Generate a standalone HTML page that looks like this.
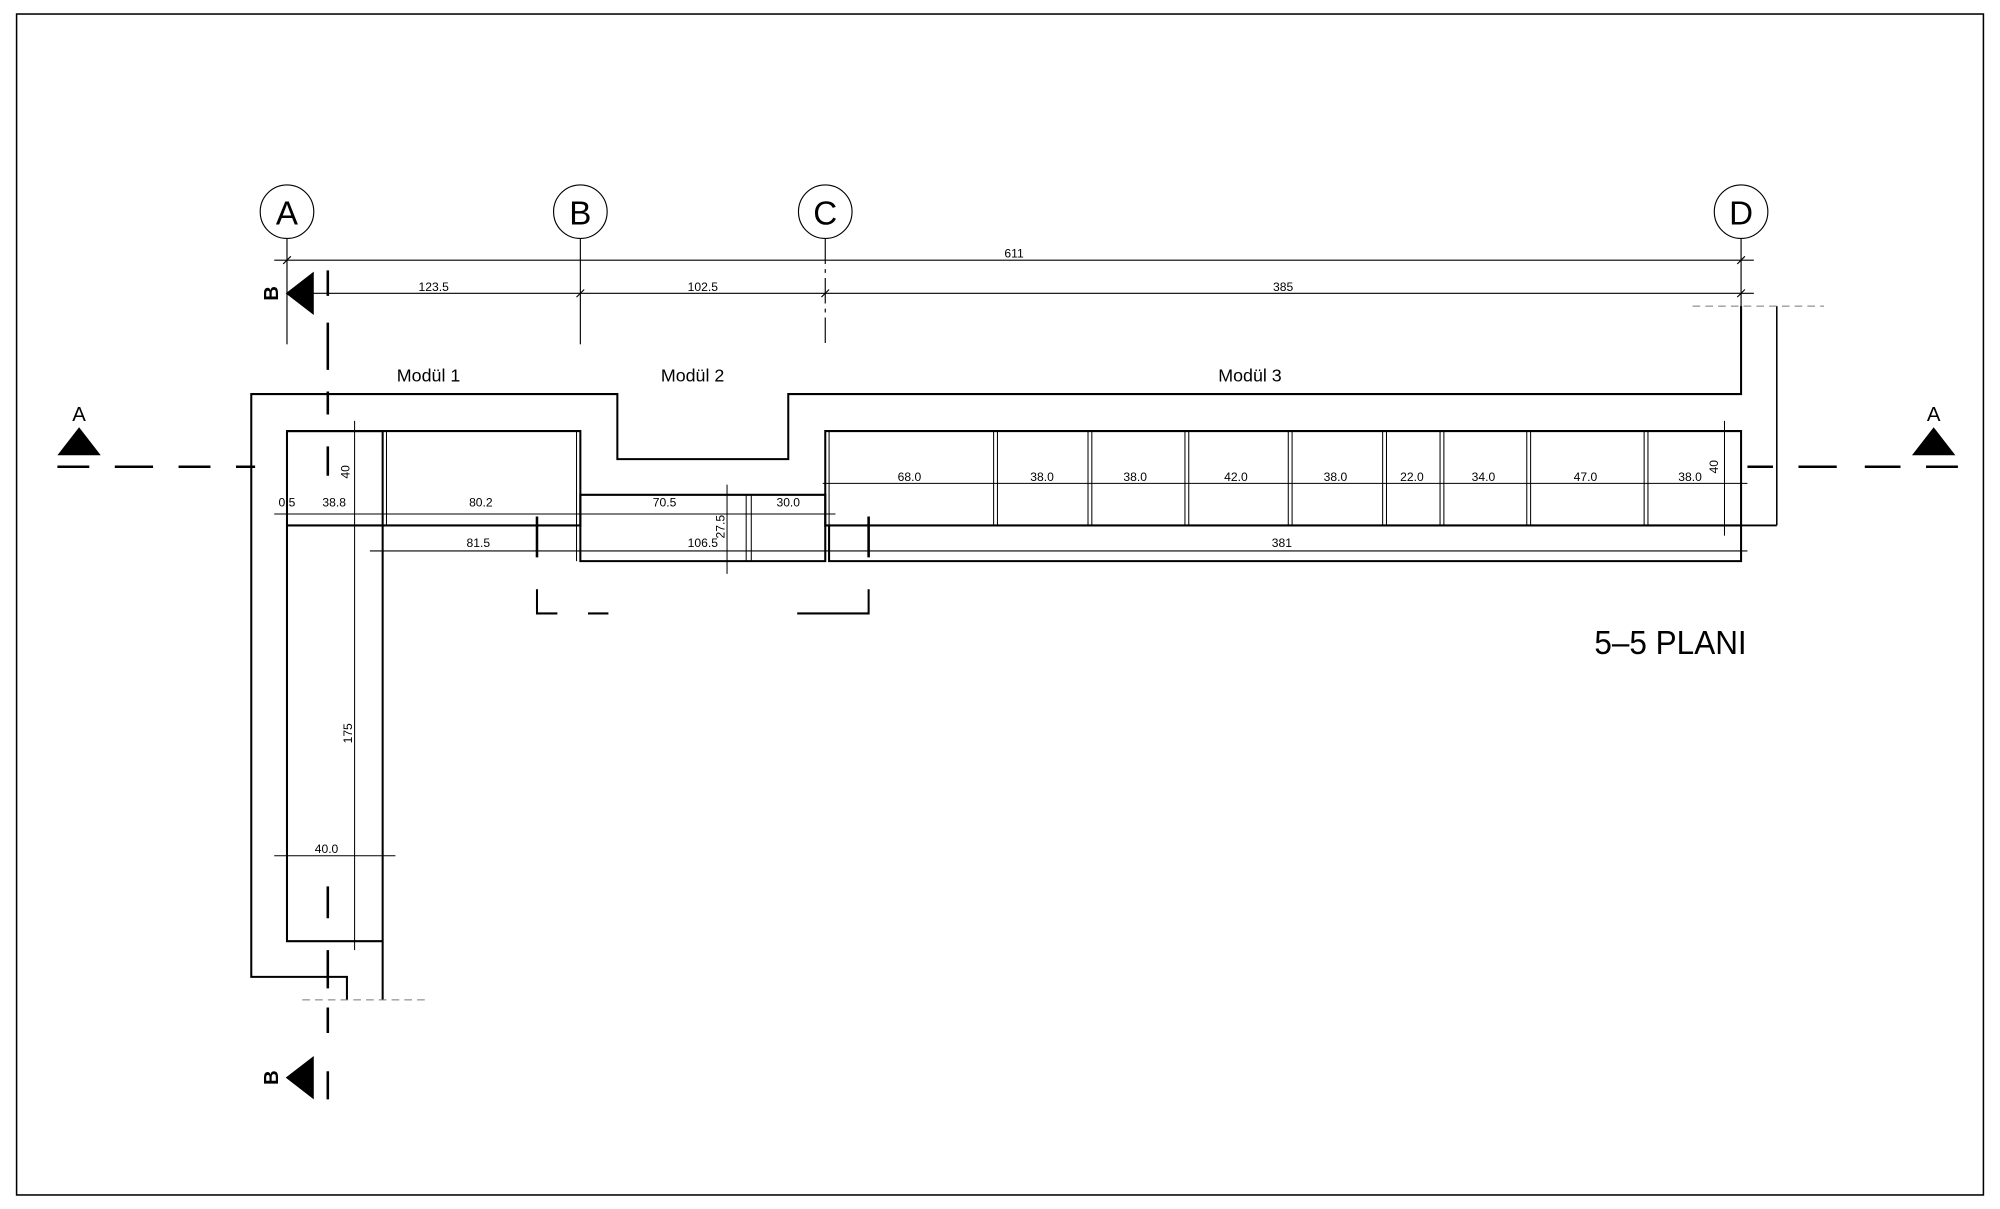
<!DOCTYPE html>
<html><head><meta charset="utf-8"><style>
html,body{margin:0;padding:0;background:#fff;width:2000px;height:1209px;overflow:hidden}
svg{display:block}
text{font-family:"Liberation Sans",sans-serif;fill:#000}
</style></head><body>
<svg width="2000" height="1209" viewBox="0 0 1568 948" preserveAspectRatio="none" xmlns="http://www.w3.org/2000/svg">
<rect x="13" y="11" width="1542" height="926" fill="none" stroke="#000" stroke-width="1.2"/>
<g fill="none" stroke="#000" stroke-width="0.9">
<circle cx="225" cy="166" r="21"/><circle cx="455" cy="166" r="21"/><circle cx="647" cy="166" r="21"/><circle cx="1365" cy="166" r="21"/>
<line x1="225" y1="187" x2="225" y2="270"/><line x1="455" y1="187" x2="455" y2="270"/>
<line x1="647" y1="187" x2="647" y2="270" stroke-dasharray="20 4 3 4"/><line x1="1365" y1="187" x2="1365" y2="306"/>
<line x1="215" y1="204" x2="1375" y2="204"/><line x1="240" y1="230" x2="1375" y2="230"/>
<path d="M222,207l6,-6M452,233l6,-6M644,233l6,-6M1362,207l6,-6M1362,233l6,-6"/>
</g>
<g fill="none" stroke="#000" stroke-width="1.6">
<path d="M1365,240V309H618V360H484V309H197V766H272V784"/>
<path d="M300,784V338H225V738H300"/>
<path d="M225,338H455V412H225"/>
<path d="M455,388H647V440H455Z"/>
<path d="M647,338H1365V412H647Z"/><path d="M650,412V440H1365V412"/>
</g>
<g stroke="#000" stroke-width="0.8" fill="none">
<line x1="303" y1="338" x2="303" y2="412"/><line x1="452" y1="338" x2="452" y2="440"/>
<line x1="585" y1="388" x2="585" y2="440"/><line x1="589" y1="388" x2="589" y2="440"/>
<line x1="650" y1="338" x2="650" y2="412"/>
<path d="M779,338V412M782,338V412M853,338V412M856,338V412M929,338V412M932,338V412M1010,338V412M1013,338V412M1084,338V412M1087,338V412M1129,338V412M1132,338V412M1197,338V412M1200,338V412M1289,338V412M1292,338V412"/>
<line x1="215" y1="403" x2="655" y2="403"/><line x1="290" y1="432" x2="1370" y2="432"/>
<line x1="645" y1="379" x2="1370" y2="379"/>
<line x1="278" y1="330" x2="278" y2="745"/><line x1="570" y1="380" x2="570" y2="450"/>
<line x1="1352" y1="330" x2="1352" y2="420"/>
<line x1="215" y1="671" x2="310" y2="671"/>
<line x1="1365" y1="412" x2="1393" y2="412" stroke-width="1.4"/><line x1="1393" y1="240" x2="1393" y2="412" stroke-width="1.2"/>
<line x1="1327" y1="240" x2="1430" y2="240" stroke="#777" stroke-dasharray="6 4"/>
<line x1="237" y1="784" x2="337" y2="784" stroke="#777" stroke-dasharray="6 4"/>
</g>
<g stroke="#000" stroke-width="2" fill="none">
<path d="M257,212V232M257,253V290M257,307V325M257,350V373M257,695V720M257,745V775M257,790V810M257,840V862"/>
<path d="M45,366H70M90,366H120M140,366H165M185,366H200M1370,366H1390M1410,366H1440M1462,366H1490M1510,366H1535"/>
<path d="M421,405V437M681,405V437"/>
<path d="M421,462V481H437M461,481H477M625,481H665H681V462" stroke-width="1.6"/>
</g>
<polygon points="224,230 246,213 246,247" fill="#000"/><polygon points="224,845 246,828 246,862" fill="#000"/>
<polygon points="45,357 79,357 62,335" fill="#000"/><polygon points="1499,357 1533,357 1516,335" fill="#000"/>
<g font-size="16" text-anchor="middle">
<text x="62" y="330">A</text><text x="1516" y="330">A</text>
<text x="213" y="230" transform="rotate(-90 213 230)" dy="5" font-weight="bold">B</text>
<text x="213" y="845" transform="rotate(-90 213 845)" dy="5" font-weight="bold">B</text>
</g>
<g font-size="26" text-anchor="middle"><text x="225" y="176">A</text><text x="455" y="176">B</text><text x="647" y="176">C</text><text x="1365" y="176">D</text></g>
<g font-size="14" text-anchor="middle"><text x="336" y="299">Modül 1</text><text x="543" y="299">Modül 2</text><text x="980" y="299">Modül 3</text></g>
<g font-size="9.5" text-anchor="middle">
<text x="795" y="202">611</text><text x="340" y="228">123.5</text><text x="551" y="228">102.5</text><text x="1006" y="228">385</text>
<text x="225" y="397">0.5</text><text x="262" y="397">38.8</text><text x="377" y="397">80.2</text><text x="521" y="397">70.5</text><text x="618" y="397">30.0</text>
<text x="713" y="377">68.0</text><text x="817" y="377">38.0</text><text x="890" y="377">38.0</text><text x="969" y="377">42.0</text><text x="1047" y="377">38.0</text><text x="1107" y="377">22.0</text><text x="1163" y="377">34.0</text><text x="1243" y="377">47.0</text><text x="1325" y="377">38.0</text>
<text x="375" y="429">81.5</text><text x="551" y="429">106.5</text><text x="1005" y="429">381</text>
<text x="256" y="669">40.0</text>
<text transform="translate(274 370) rotate(-90)">40</text>
<text transform="translate(276 575) rotate(-90)">175</text>
<text transform="translate(568 413) rotate(-90)">27.5</text>
<text transform="translate(1347 366) rotate(-90)">40</text>
</g>
<text x="1250" y="513" font-size="26" transform="translate(1250 0) scale(0.95 1) translate(-1250 0)">5–5 PLANI</text>
</svg>
</body></html>
